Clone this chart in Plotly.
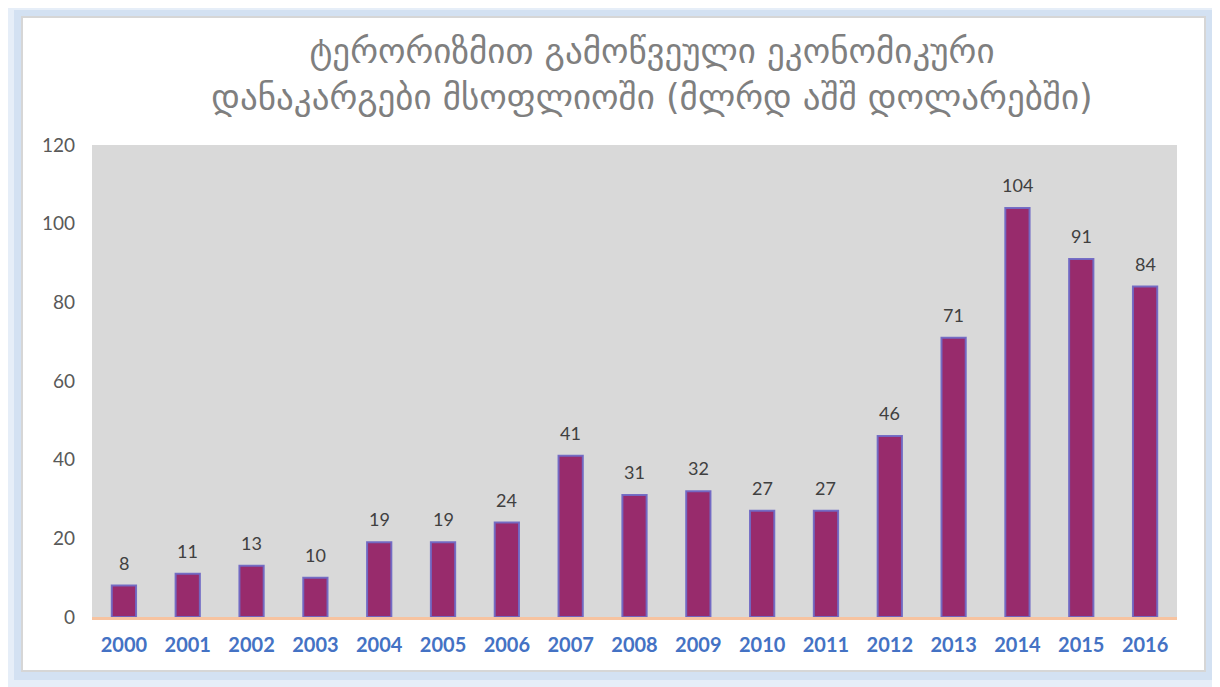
import plotly.graph_objects as go

years = ["2000", "2001", "2002", "2003", "2004", "2005", "2006", "2007", "2008",
         "2009", "2010", "2011", "2012", "2013", "2014", "2015", "2016"]
losses = [8, 11, 13, 10, 19, 19, 24, 41, 31, 32, 27, 27, 46, 71, 104, 91, 84]
title_lines = ["ტერორიზმით გამოწვეული ეკონომიკური",
               "დანაკარგები მსოფლიოში (მლრდ აშშ დოლარებში)"]

COLOR_BAR = "#982B6C"
COLOR_EDGE = "rgba(112,104,196,0.95)"
COLOR_PLOTBG = "#D9D9D9"
COLOR_AXIS = "#F7C3A0"
COLOR_XTICK = "#4472C4"
COLOR_TEXT = "#595959"

# the page has an 8px body margin, so the figure is a bit smaller than the window
OFF = 8
W, H = 1220 - OFF, 687 - OFF
L, R, T, B = 84, 43, 137, 70
pw, ph = W - L - R, H - T - B


def px_rect(x0, y0, x1, y1):
    # window pixel box -> paper coordinates
    x0, x1, y0, y1 = x0 - OFF, x1 - OFF, y0 - OFF, y1 - OFF
    return dict(x0=(x0 - L) / pw, x1=(x1 - L) / pw,
                y0=(H - B - y1) / ph, y1=(H - B - y0) / ph)


fig = go.Figure()
fig.add_trace(go.Bar(
    x=years, y=losses,
    marker=dict(color=COLOR_BAR, line=dict(color=COLOR_EDGE, width=2)),
    hoverinfo="x+y",
))

# value labels; category axis -> annotations use the category index
for i, v in enumerate(losses):
    fig.add_annotation(x=i, y=v, text=str(v), showarrow=False,
                       yanchor="bottom", yshift=10,
                       font=dict(family="Lato, Carlito, sans-serif", size=18, color="#404040"))

shapes = [
    dict(type="rect", xref="paper", yref="paper", layer="below",
         fillcolor="#E6EEF8", line=dict(width=0), **px_rect(6, 4, 1230, 700)),
    dict(type="rect", xref="paper", yref="paper", layer="below",
         fillcolor="#D3E1F2", line=dict(width=0), **px_rect(14, 10, 1213, 680)),
    dict(type="rect", xref="paper", yref="paper", layer="below",
         fillcolor="white", line=dict(color="#D6D6D6", width=2), **px_rect(22, 17, 1205, 671)),
    # plot area background (drawn as a shape so it sits above the frame)
    dict(type="rect", xref="paper", yref="paper", layer="below",
         fillcolor=COLOR_PLOTBG, line=dict(width=0), x0=0, x1=1, y0=0, y1=1),
]

fig.update_layout(
    width=W, height=H,
    margin=dict(l=L, r=R, t=T, b=B),
    paper_bgcolor="#EEF3FA",
    plot_bgcolor="rgba(0,0,0,0)",
    bargap=0.62,
    showlegend=False,
    shapes=shapes,
    title=dict(
        text="<br>".join(title_lines),
        x=(652 - OFF) / W, xanchor="center", y=1 - 55 / H, yanchor="top",
        font=dict(family="DejaVu Sans, sans-serif", size=35, color="#7F7F7F"),
    ),
    xaxis=dict(
        type="category",
        showgrid=False, showline=True, linecolor=COLOR_AXIS, linewidth=3,
        ticks="", ticklabelstandoff=8,
        tickfont=dict(family="Lato, sans-serif", size=20, color=COLOR_XTICK, weight="bold"),
    ),
    yaxis=dict(
        range=[0, 120], dtick=20, showgrid=False, zeroline=False, showline=False,
        ticks="", ticklabelstandoff=16,
        tickfont=dict(family="Lato, sans-serif", size=19, color=COLOR_TEXT),
    ),
)

fig.write_html("out.html")
